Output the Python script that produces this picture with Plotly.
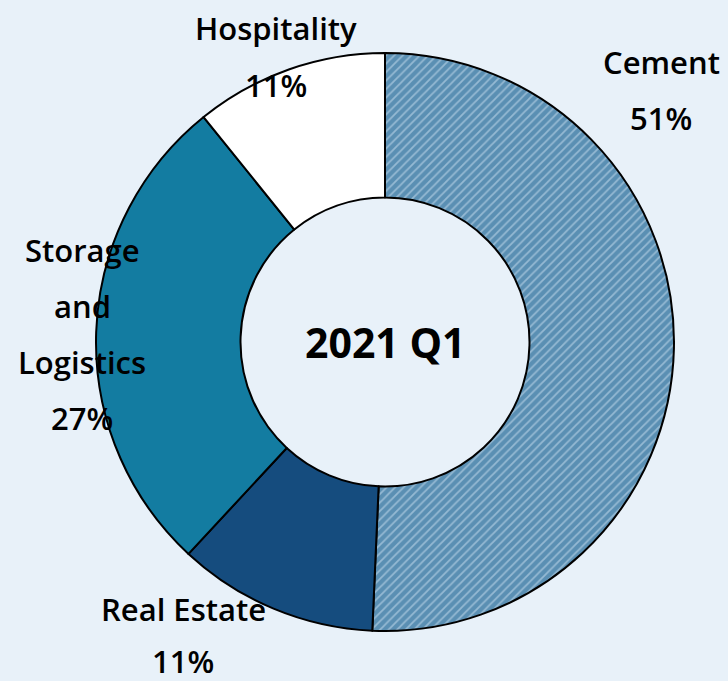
import plotly.graph_objects as go

# ---- data ----
categories = ["Cement", "Real Estate", "Storage and Logistics", "Hospitality"]
values = [50.7, 11.2, 27.3, 10.8]
label_lines = [["Cement"], ["Real Estate"], ["Storage", "and", "Logistics"], ["Hospitality"]]
center_title = "2021 Q1"

# ---- styles ----
W, H = 728, 681
BG = "#e8f1f9"
colors = ["#5a8fb3", "#154c7e", "#137ca1", "#ffffff"]
pattern_shapes = ["/", "", "", ""]
cx, cy, R = 385, 342, 289
# label anchor (x center, first line y, line step) in pixels
label_pos = [(661, 62, 56), (183, 609, 52), (82, 250, 56), (276, 28, 57)]
FONT = "Open Sans"

fig = go.Figure()
fig.add_trace(go.Pie(
    labels=categories,
    values=values,
    hole=0.5,
    sort=False,
    direction="clockwise",
    rotation=0,
    textinfo="none",
    hoverinfo="label+percent",
    marker=dict(
        colors=colors,
        line=dict(color="#000000", width=2),
        pattern=dict(shape=pattern_shapes, fgcolor="#cfe3f3", bgcolor=colors,
                     size=6, solidity=0.3, fillmode="overlay"),
    ),
    domain=dict(x=[(cx - R) / W, (cx + R) / W],
                y=[(H - cy - R) / H, (H - cy + R) / H]),
    showlegend=False,
))

annotations = []
total = sum(values)
for lines, v, (x, y0, step) in zip(label_lines, values, label_pos):
    texts = list(lines) + [f"{round(100 * v / total)}%"]
    for i, t in enumerate(texts):
        y = y0 + i * step
        annotations.append(dict(
            text=t, x=x / W, y=1 - y / H, xref="paper", yref="paper",
            xanchor="center", yanchor="middle", showarrow=False, borderpad=0,
            font=dict(family=FONT, size=31, color="#000000", weight=600),
        ))
annotations.append(dict(
    text=center_title, x=cx / W, y=1 - cy / H, xref="paper", yref="paper",
    xanchor="center", yanchor="middle", showarrow=False,
    font=dict(family=FONT, size=41, color="#000000", weight=700),
))

fig.update_layout(
    width=W, height=H,
    margin=dict(l=0, r=0, t=0, b=0),
    paper_bgcolor=BG, plot_bgcolor=BG,
    annotations=annotations,
)
fig.write_html("out.html", config={"displayModeBar": False},
               post_script="document.body.style.margin='0';document.body.style.background='" + BG + "';")
